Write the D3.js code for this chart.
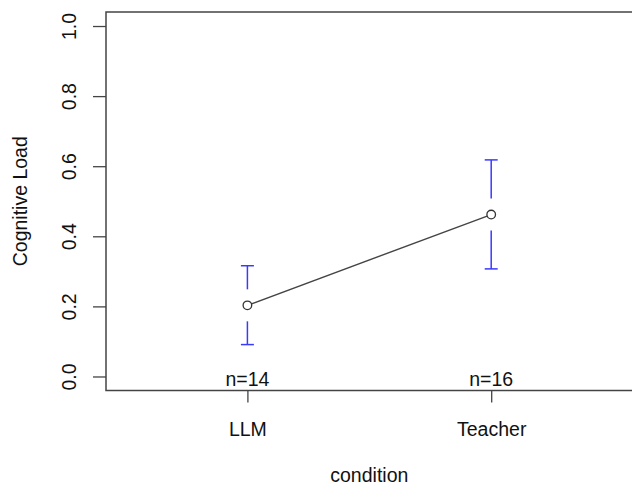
<!DOCTYPE html>
<html>
<head>
<meta charset="utf-8">
<script src="https://cdn.jsdelivr.net/npm/d3@7/dist/d3.min.js"></script>
<style>
  html, body { margin: 0; padding: 0; background: #fff; }
  svg { display: block; }
  text { font-family: "Liberation Sans", Arial, Helvetica, sans-serif; fill: #111; }
</style>
</head>
<body>
<svg id="chart" width="632" height="486"></svg>
<script>
const categories = ["LLM", "Teacher"];
const means = [0.203, 0.462];
const lower = [0.091, 0.307];
const upper = [0.316, 0.618];
const counts = [14, 16];
const yTicks = [0, 0.2, 0.4, 0.6, 0.8, 1.0];
const xLabel = "condition";
const yLabel = "Cognitive Load";

const svg = d3.select("#chart");
const fs = 19.5;

const x = d3.scaleLinear().domain([0.42, 2.58]).range([106, 632.6]);
const y = d3.scaleLinear().domain([-0.04, 1.04]).range([390.5, 12]);

const axisColor = "#444";

// Box (right edge falls outside the picture, as in the reference)
svg.append("rect")
  .attr("x", x(0.42)).attr("y", y(1.04))
  .attr("width", x(2.58) - x(0.42) + 4).attr("height", y(-0.04) - y(1.04))
  .attr("fill", "none").attr("stroke", axisColor).attr("stroke-width", 1.5);

// Y axis
const yAxis = svg.append("g")
  .attr("transform", `translate(${x(0.42)},0)`)
  .call(d3.axisLeft(y).tickValues(yTicks).tickFormat(d3.format(".1f")).tickSize(13).tickPadding(0));
yAxis.select(".domain").remove();
yAxis.selectAll(".tick line").attr("stroke", axisColor).attr("stroke-width", 1.3);
yAxis.selectAll(".tick text")
  .attr("x", null).attr("dy", null)
  .attr("text-anchor", "middle")
  .attr("transform", "translate(-30,0) rotate(-90)")
  .style("font-size", fs + "px")
  .style("font-family", '"Liberation Sans", Arial, sans-serif')
  .attr("fill", "#111");

// X axis
const xAxis = svg.append("g")
  .attr("transform", `translate(0,${y(-0.04)})`)
  .call(d3.axisBottom(x).tickValues([1, 2]).tickFormat((d) => categories[d - 1]).tickSize(12).tickPadding(0));
xAxis.select(".domain").remove();
xAxis.selectAll(".tick line").attr("stroke", axisColor).attr("stroke-width", 1.3);
xAxis.selectAll(".tick text")
  .attr("dy", null).attr("y", 45.5)
  .style("font-size", fs + "px")
  .style("font-family", '"Liberation Sans", Arial, sans-serif')
  .attr("fill", "#111");

// Axis titles
svg.append("text")
  .attr("x", (x(0.42) + x(2.58)) / 2).attr("y", 481.5)
  .attr("text-anchor", "middle").style("font-size", fs + "px")
  .text(xLabel);
svg.append("text")
  .attr("transform", `translate(26.5,${(y(-0.04) + y(1.04)) / 2}) rotate(-90)`)
  .attr("text-anchor", "middle").style("font-size", fs + "px")
  .text(yLabel);

const pts = categories.map((c, i) => ({ c, i: i + 1, m: means[i], lo: lower[i], hi: upper[i], n: counts[i] }));

// Connecting line
svg.append("path")
  .datum(pts)
  .attr("d", d3.line().x(d => x(d.i)).y(d => y(d.m)))
  .attr("fill", "none").attr("stroke", "#444").attr("stroke-width", 1.4);

// Error bars with gaps
const gap = 16, cap = 6.5;
const eb = svg.append("g").attr("stroke", "#3a3aff").attr("stroke-width", 1.5).attr("fill", "none");
pts.forEach(d => {
  const cx = x(d.i), cy = y(d.m);
  eb.append("line").attr("x1", cx).attr("x2", cx).attr("y1", y(d.hi)).attr("y2", cy - gap);
  eb.append("line").attr("x1", cx).attr("x2", cx).attr("y1", cy + gap).attr("y2", y(d.lo));
  eb.append("line").attr("x1", cx - cap).attr("x2", cx + cap).attr("y1", y(d.hi)).attr("y2", y(d.hi));
  eb.append("line").attr("x1", cx - cap).attr("x2", cx + cap).attr("y1", y(d.lo)).attr("y2", y(d.lo));
});

// Points
svg.selectAll("circle.pt").data(pts).enter().append("circle")
  .attr("class", "pt")
  .attr("cx", d => x(d.i)).attr("cy", d => y(d.m)).attr("r", 4.3)
  .attr("fill", "#fff").attr("stroke", "#333").attr("stroke-width", 1.3);

// n labels
svg.selectAll("text.n").data(pts).enter().append("text")
  .attr("class", "n")
  .attr("x", d => x(d.i)).attr("y", 386)
  .attr("text-anchor", "middle").style("font-size", fs + "px")
  .text(d => "n=" + d.n);
</script>
</body>
</html>
